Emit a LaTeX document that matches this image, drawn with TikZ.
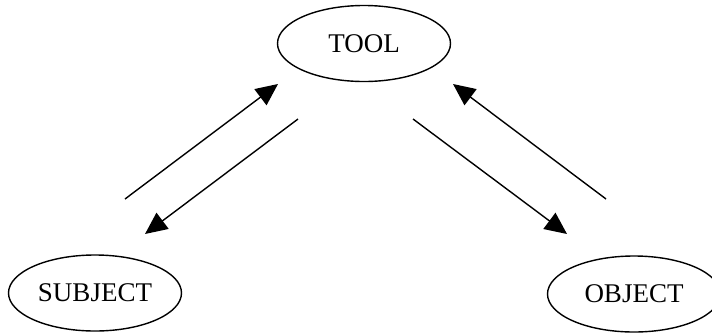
\documentclass[tikz,border=0pt]{standalone}
\usepackage{fontspec}
\setmainfont{Liberation Serif}
\usetikzlibrary{arrows.meta,shapes.geometric}
\begin{document}
\begin{tikzpicture}[x=1pt,y=-1pt,
  ell/.style={draw,ellipse,line width=1.4pt,minimum width=173pt,minimum height=76pt,inner sep=0pt,font=\fontsize{27}{32}\selectfont},
  arr/.style={line width=1.4pt,-{Triangle[length=22pt,width=20pt]}}]
\useasboundingbox (0,0) rectangle (712,333);
\clip (0,0) rectangle (712,333);
\node[ell] (tool) at (364,43.5) {TOOL};
\node[ell] (subject) at (95,293) {SUBJECT};
\node[ell] (object) at (634,294) {OBJECT};
\coordinate (a1s) at (125,199);
\coordinate (a1e) at (278,84);
\coordinate (a2s) at (298,119);
\coordinate (a2e) at (145,234);
\coordinate (a3s) at (413,119);
\coordinate (a3e) at (567,234);
\coordinate (a4s) at (606,199);
\coordinate (a4e) at (453,84);
\draw[arr] (a1s) -- (a1e);
\draw[arr] (a2s) -- (a2e);
\draw[arr] (a3s) -- (a3e);
\draw[arr] (a4s) -- (a4e);
\end{tikzpicture}
\end{document}
